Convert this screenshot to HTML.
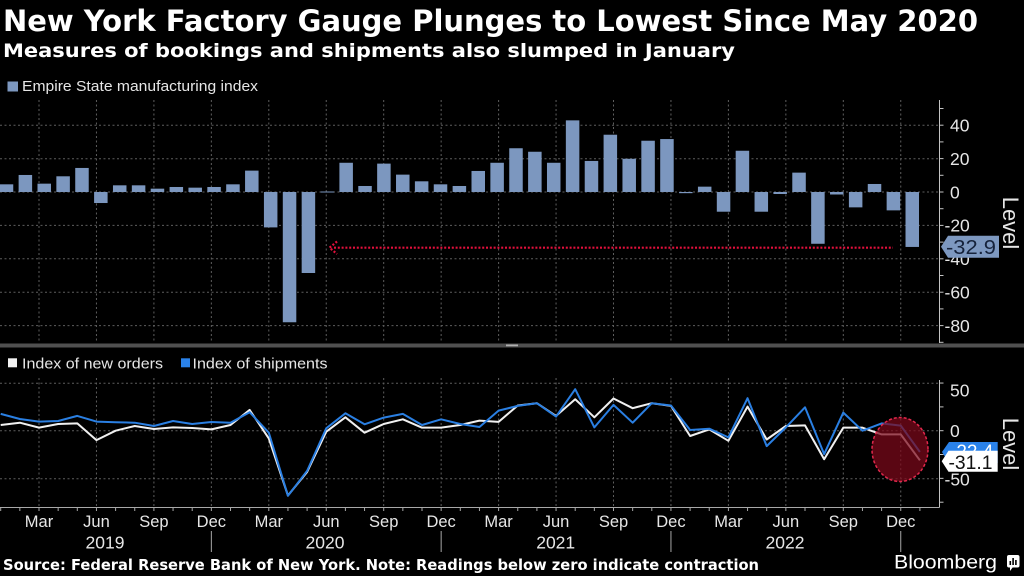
<!DOCTYPE html>
<html><head><meta charset="utf-8"><style>
html,body{margin:0;padding:0;background:#000;}
svg{display:block;}
</style></head><body>
<svg width="1024" height="576" viewBox="0 0 1024 576" xmlns="http://www.w3.org/2000/svg">
<rect width="1024" height="576" fill="#000"/>
<!-- Titles -->
<text x="3" y="31" font-family="DejaVu Sans, Liberation Sans, sans-serif" font-weight="bold" font-size="29" fill="#fff" textLength="975" lengthAdjust="spacingAndGlyphs">New York Factory Gauge Plunges to Lowest Since May 2020</text>
<text x="3" y="57" font-family="DejaVu Sans, Liberation Sans, sans-serif" font-weight="bold" font-size="19" fill="#fff" textLength="732" lengthAdjust="spacingAndGlyphs">Measures of bookings and shipments also slumped in January</text>
<!-- Top legend -->
<rect x="7.5" y="81.5" width="10.5" height="10" fill="#7c97bf"/>
<text x="22" y="91" font-family="Liberation Sans, sans-serif" font-size="15" fill="#e6e6e6" textLength="236" lengthAdjust="spacingAndGlyphs">Empire State manufacturing index</text>

<!-- Top grid -->
<g stroke="#5e5e5e" stroke-width="1" stroke-dasharray="2 2.5" fill="none">
<line x1="0" y1="125.3" x2="939" y2="125.3"/>
<line x1="0" y1="158.7" x2="939" y2="158.7"/>
<line x1="0" y1="192" x2="939" y2="192"/>
<line x1="0" y1="225.4" x2="939" y2="225.4"/>
<line x1="0" y1="258.8" x2="939" y2="258.8"/>
<line x1="0" y1="292.2" x2="939" y2="292.2"/>
<line x1="0" y1="325.6" x2="939" y2="325.6"/>
<line x1="39" y1="100" x2="39" y2="343"/>
<line x1="96.45" y1="100" x2="96.45" y2="343"/>
<line x1="153.9" y1="100" x2="153.9" y2="343"/>
<line x1="211.35" y1="100" x2="211.35" y2="343"/>
<line x1="268.8" y1="100" x2="268.8" y2="343"/>
<line x1="326.25" y1="100" x2="326.25" y2="343"/>
<line x1="383.7" y1="100" x2="383.7" y2="343"/>
<line x1="441.15" y1="100" x2="441.15" y2="343"/>
<line x1="498.6" y1="100" x2="498.6" y2="343"/>
<line x1="556.05" y1="100" x2="556.05" y2="343"/>
<line x1="613.5" y1="100" x2="613.5" y2="343"/>
<line x1="670.95" y1="100" x2="670.95" y2="343"/>
<line x1="728.4" y1="100" x2="728.4" y2="343"/>
<line x1="785.85" y1="100" x2="785.85" y2="343"/>
<line x1="843.3" y1="100" x2="843.3" y2="343"/>
<line x1="900.75" y1="100" x2="900.75" y2="343"/>
</g>

<!-- Bars -->
<g fill="#7c97bf">
<rect x="-0.25" y="184.32" width="13.5" height="7.68"/>
<rect x="18.62" y="174.97" width="13.5" height="17.03"/>
<rect x="37.49" y="183.65" width="13.5" height="8.35"/>
<rect x="56.36" y="176.3" width="13.5" height="15.7"/>
<rect x="75.23" y="167.95" width="13.5" height="24.05"/>
<rect x="94.1" y="192" width="13.5" height="11.02"/>
<rect x="112.97" y="185.32" width="13.5" height="6.68"/>
<rect x="131.84" y="185.32" width="13.5" height="6.68"/>
<rect x="150.71" y="188.66" width="13.5" height="3.34"/>
<rect x="169.58" y="186.99" width="13.5" height="5.01"/>
<rect x="188.45" y="187.66" width="13.5" height="4.34"/>
<rect x="207.32" y="186.99" width="13.5" height="5.01"/>
<rect x="226.19" y="184.32" width="13.5" height="7.68"/>
<rect x="245.06" y="170.62" width="13.5" height="21.38"/>
<rect x="263.93" y="192" width="13.5" height="35.4"/>
<rect x="282.8" y="192" width="13.5" height="130.26"/>
<rect x="301.67" y="192" width="13.5" height="81"/>
<rect x="320.54" y="191.5" width="13.5" height="1"/>
<rect x="339.41" y="162.77" width="13.5" height="29.23"/>
<rect x="358.28" y="185.99" width="13.5" height="6.01"/>
<rect x="377.15" y="163.61" width="13.5" height="28.39"/>
<rect x="396.02" y="174.63" width="13.5" height="17.37"/>
<rect x="414.89" y="181.31" width="13.5" height="10.69"/>
<rect x="433.76" y="184.32" width="13.5" height="7.68"/>
<rect x="452.63" y="185.99" width="13.5" height="6.01"/>
<rect x="471.5" y="170.96" width="13.5" height="21.04"/>
<rect x="490.37" y="162.77" width="13.5" height="29.23"/>
<rect x="509.24" y="148.25" width="13.5" height="43.75"/>
<rect x="528.11" y="151.75" width="13.5" height="40.25"/>
<rect x="546.98" y="162.77" width="13.5" height="29.23"/>
<rect x="565.85" y="120.36" width="13.5" height="71.64"/>
<rect x="584.72" y="160.94" width="13.5" height="31.06"/>
<rect x="603.59" y="134.72" width="13.5" height="57.28"/>
<rect x="622.46" y="158.77" width="13.5" height="33.23"/>
<rect x="641.33" y="140.73" width="13.5" height="51.27"/>
<rect x="660.2" y="139.06" width="13.5" height="52.94"/>
<rect x="679.07" y="192" width="13.5" height="1.17"/>
<rect x="697.94" y="186.66" width="13.5" height="5.34"/>
<rect x="716.81" y="192" width="13.5" height="19.71"/>
<rect x="735.68" y="150.75" width="13.5" height="41.25"/>
<rect x="754.55" y="192" width="13.5" height="19.71"/>
<rect x="773.42" y="192" width="13.5" height="2"/>
<rect x="792.29" y="172.63" width="13.5" height="19.37"/>
<rect x="811.16" y="192" width="13.5" height="51.77"/>
<rect x="830.03" y="192" width="13.5" height="2.5"/>
<rect x="848.9" y="192" width="13.5" height="15.36"/>
<rect x="867.77" y="183.98" width="13.5" height="8.02"/>
<rect x="886.64" y="192" width="13.5" height="18.37"/>
<rect x="905.51" y="192" width="13.5" height="54.94"/>
</g>

<!-- Red dotted arrow -->
<g stroke="#e3103c" stroke-width="2.2" stroke-dasharray="2 1.8" fill="none">
<line x1="334" y1="247.7" x2="893" y2="247.7"/>
<polyline points="337,241.5 329.5,247.7 337,254"/>
</g>

<!-- Top y axis -->
<g stroke="#c4c4c4" stroke-width="1" fill="none">
<line x1="939.5" y1="100" x2="939.5" y2="343"/>
<line x1="939.5" y1="108.5" x2="943.5" y2="108.5"/>
<line x1="939.5" y1="125.2" x2="943.5" y2="125.2"/>
<line x1="939.5" y1="141.9" x2="943.5" y2="141.9"/>
<line x1="939.5" y1="158.6" x2="943.5" y2="158.6"/>
<line x1="939.5" y1="175.3" x2="943.5" y2="175.3"/>
<line x1="939.5" y1="192" x2="943.5" y2="192"/>
<line x1="939.5" y1="208.7" x2="943.5" y2="208.7"/>
<line x1="939.5" y1="225.4" x2="943.5" y2="225.4"/>
<line x1="939.5" y1="242.1" x2="943.5" y2="242.1"/>
<line x1="939.5" y1="258.8" x2="943.5" y2="258.8"/>
<line x1="939.5" y1="275.5" x2="943.5" y2="275.5"/>
<line x1="939.5" y1="292.2" x2="943.5" y2="292.2"/>
<line x1="939.5" y1="308.9" x2="943.5" y2="308.9"/>
<line x1="939.5" y1="325.6" x2="943.5" y2="325.6"/>
<line x1="939.5" y1="342.3" x2="943.5" y2="342.3"/>
</g>
<g font-family="Liberation Sans, sans-serif" font-size="17.5" fill="#e6e6e6">
<text x="950" y="131.5">40</text>
<text x="950" y="165">20</text>
<text x="950" y="198.3">0</text>
<text x="944.5" y="231.7">-20</text>
<text x="944.5" y="265">-40</text>
<text x="944.5" y="298.5">-60</text>
<text x="944.5" y="331.9">-80</text>
</g>
<!-- -32.9 label -->
<polygon points="941,246.7 948,235.7 999,235.7 999,257.7 948,257.7" fill="#7d98c0"/>
<text x="946" y="254" font-family="Liberation Sans, sans-serif" font-size="20" fill="#16233c" textLength="50" lengthAdjust="spacingAndGlyphs">-32.9</text>
<text transform="translate(1003,223) rotate(90)" text-anchor="middle" font-family="Liberation Sans, sans-serif" font-size="22" fill="#e6e6e6">Level</text>

<!-- Separator -->
<rect x="0" y="343.5" width="1024" height="4" fill="#505050"/>
<rect x="506" y="344.5" width="12" height="1.8" fill="#b0b0b0"/>

<!-- Lower legend -->
<rect x="8" y="358.3" width="9" height="9" fill="#f2f2f2"/>
<text x="22" y="368.3" font-family="Liberation Sans, sans-serif" font-size="15" fill="#e6e6e6" textLength="141" lengthAdjust="spacingAndGlyphs">Index of new orders</text>
<rect x="181" y="358.3" width="9" height="9" fill="#2a82ea"/>
<text x="192.5" y="368.3" font-family="Liberation Sans, sans-serif" font-size="15" fill="#e6e6e6" textLength="135" lengthAdjust="spacingAndGlyphs">Index of shipments</text>

<!-- Lower grid -->
<g stroke="#5e5e5e" stroke-width="1" stroke-dasharray="2 2.5" fill="none">
<line x1="0" y1="383.3" x2="939" y2="383.3"/>
<line x1="0" y1="430.7" x2="939" y2="430.7"/>
<line x1="0" y1="478.7" x2="939" y2="478.7"/>
<line x1="39" y1="378" x2="39" y2="507"/>
<line x1="96.45" y1="378" x2="96.45" y2="507"/>
<line x1="153.9" y1="378" x2="153.9" y2="507"/>
<line x1="211.35" y1="378" x2="211.35" y2="507"/>
<line x1="268.8" y1="378" x2="268.8" y2="507"/>
<line x1="326.25" y1="378" x2="326.25" y2="507"/>
<line x1="383.7" y1="378" x2="383.7" y2="507"/>
<line x1="441.15" y1="378" x2="441.15" y2="507"/>
<line x1="498.6" y1="378" x2="498.6" y2="507"/>
<line x1="556.05" y1="378" x2="556.05" y2="507"/>
<line x1="613.5" y1="378" x2="613.5" y2="507"/>
<line x1="670.95" y1="378" x2="670.95" y2="507"/>
<line x1="728.4" y1="378" x2="728.4" y2="507"/>
<line x1="785.85" y1="378" x2="785.85" y2="507"/>
<line x1="843.3" y1="378" x2="843.3" y2="507"/>
<line x1="900.75" y1="378" x2="900.75" y2="507"/>
</g>

<!-- Lines -->
<polyline fill="none" stroke="#f0f0f0" stroke-width="2" stroke-linejoin="round" points="0.7,425.0 19.85,422.7 39,427.65 58.15,424 77.3,423.4 96.45,440.1 115.6,430.7 134.75,426 153.9,429 173.05,427.4 192.2,428 211.35,429.4 230.5,425 249.65,409.9 268.8,438.4 287.95,495.5 307.1,472 326.25,431.7 345.4,417.3 364.55,432.7 383.7,424 402.85,419.3 422,427.65 441.15,427.65 460.3,425 479.45,420.6 498.6,421.9 517.75,405.5 536.9,403.2 556.05,415.9 575.2,399.25 594.35,417.3 613.5,398.5 632.65,408.2 651.8,403.2 670.95,405.9 690.1,436 709.25,429.4 728.4,440.8 747.55,406.6 766.7,439.5 785.85,426 805,425.4 824.15,459.2 843.3,427.65 862.45,427.65 881.6,434.4 900.75,434.4 919.9,460.3"/>
<polyline fill="none" stroke="#2a7fe2" stroke-width="2" stroke-linejoin="round" points="0.7,413.9 19.85,419 39,421.6 58.15,421 77.3,415.9 96.45,421.6 115.6,422.3 134.75,422.7 153.9,426 173.05,421 192.2,424 211.35,422 230.5,422.7 249.65,412.2 268.8,432.7 287.95,495.8 307.1,470.9 326.25,428.3 345.4,413.3 364.55,424.3 383.7,417.6 402.85,413.9 422,425 441.15,419.3 460.3,424 479.45,427 498.6,410.6 517.75,405.9 536.9,403.2 556.05,416.6 575.2,389.2 594.35,427.4 613.5,404.9 632.65,422.7 651.8,403.2 670.95,405.5 690.1,430 709.25,428.7 728.4,437.4 747.55,398.2 766.7,446.1 785.85,427.4 805,407.3 824.15,454.1 843.3,412.6 862.45,430.7 881.6,423.4 900.75,425.6 919.9,452"/>

<!-- Red circle -->
<ellipse cx="900" cy="449.5" rx="28" ry="32" fill="rgb(125,8,26)" fill-opacity="0.72" stroke="#e2284c" stroke-width="1.5" stroke-dasharray="3 2"/>

<!-- Lower y axis -->
<g stroke="#c4c4c4" stroke-width="1" fill="none">
<line x1="939.5" y1="380" x2="939.5" y2="507.5"/>
<line x1="939.5" y1="383.05" x2="943.5" y2="383.05"/>
<line x1="939.5" y1="406.9" x2="943.5" y2="406.9"/>
<line x1="939.5" y1="430.7" x2="943.5" y2="430.7"/>
<line x1="939.5" y1="454.5" x2="943.5" y2="454.5"/>
<line x1="939.5" y1="478.35" x2="943.5" y2="478.35"/>
<line x1="939.5" y1="502.2" x2="943.5" y2="502.2"/>
</g>
<g font-family="Liberation Sans, sans-serif" font-size="17.5" fill="#e6e6e6">
<text x="950" y="396.3">50</text>
<text x="950" y="437">0</text>
<text x="944.5" y="485.3">-50</text>
</g>
<polygon points="942,452 949,442 997.7,442 997.7,463 949,463" fill="#2a82ea"/>
<text x="950" y="458" font-family="Liberation Sans, sans-serif" font-size="19" fill="#fff">-22.4</text>
<polygon points="941.7,461.2 948.5,450.7 997.7,450.7 997.7,471.7 948.5,471.7" fill="#fff"/>
<text x="948.5" y="468.8" font-family="Liberation Sans, sans-serif" font-size="19.5" fill="#111" textLength="44" lengthAdjust="spacingAndGlyphs">-31.1</text>
<text transform="translate(1003,444) rotate(90)" text-anchor="middle" font-family="Liberation Sans, sans-serif" font-size="22" fill="#e6e6e6">Level</text>

<!-- X axis -->
<line x1="0" y1="507.5" x2="939.5" y2="507.5" stroke="#a8a8a8" stroke-width="1"/>
<g stroke="#a8a8a8" stroke-width="1">
<line x1="0.7" y1="507.5" x2="0.7" y2="511"/><line x1="19.85" y1="507.5" x2="19.85" y2="511"/><line x1="39" y1="507.5" x2="39" y2="511"/><line x1="58.15" y1="507.5" x2="58.15" y2="511"/><line x1="77.3" y1="507.5" x2="77.3" y2="511"/><line x1="96.45" y1="507.5" x2="96.45" y2="511"/><line x1="115.6" y1="507.5" x2="115.6" y2="511"/><line x1="134.75" y1="507.5" x2="134.75" y2="511"/><line x1="153.9" y1="507.5" x2="153.9" y2="511"/><line x1="173.05" y1="507.5" x2="173.05" y2="511"/><line x1="192.2" y1="507.5" x2="192.2" y2="511"/><line x1="211.35" y1="507.5" x2="211.35" y2="511"/><line x1="230.5" y1="507.5" x2="230.5" y2="511"/><line x1="249.65" y1="507.5" x2="249.65" y2="511"/><line x1="268.8" y1="507.5" x2="268.8" y2="511"/><line x1="287.95" y1="507.5" x2="287.95" y2="511"/><line x1="307.1" y1="507.5" x2="307.1" y2="511"/><line x1="326.25" y1="507.5" x2="326.25" y2="511"/><line x1="345.4" y1="507.5" x2="345.4" y2="511"/><line x1="364.55" y1="507.5" x2="364.55" y2="511"/><line x1="383.7" y1="507.5" x2="383.7" y2="511"/><line x1="402.85" y1="507.5" x2="402.85" y2="511"/><line x1="422" y1="507.5" x2="422" y2="511"/><line x1="441.15" y1="507.5" x2="441.15" y2="511"/><line x1="460.3" y1="507.5" x2="460.3" y2="511"/><line x1="479.45" y1="507.5" x2="479.45" y2="511"/><line x1="498.6" y1="507.5" x2="498.6" y2="511"/><line x1="517.75" y1="507.5" x2="517.75" y2="511"/><line x1="536.9" y1="507.5" x2="536.9" y2="511"/><line x1="556.05" y1="507.5" x2="556.05" y2="511"/><line x1="575.2" y1="507.5" x2="575.2" y2="511"/><line x1="594.35" y1="507.5" x2="594.35" y2="511"/><line x1="613.5" y1="507.5" x2="613.5" y2="511"/><line x1="632.65" y1="507.5" x2="632.65" y2="511"/><line x1="651.8" y1="507.5" x2="651.8" y2="511"/><line x1="670.95" y1="507.5" x2="670.95" y2="511"/><line x1="690.1" y1="507.5" x2="690.1" y2="511"/><line x1="709.25" y1="507.5" x2="709.25" y2="511"/><line x1="728.4" y1="507.5" x2="728.4" y2="511"/><line x1="747.55" y1="507.5" x2="747.55" y2="511"/><line x1="766.7" y1="507.5" x2="766.7" y2="511"/><line x1="785.85" y1="507.5" x2="785.85" y2="511"/><line x1="805" y1="507.5" x2="805" y2="511"/><line x1="824.15" y1="507.5" x2="824.15" y2="511"/><line x1="843.3" y1="507.5" x2="843.3" y2="511"/><line x1="862.45" y1="507.5" x2="862.45" y2="511"/><line x1="881.6" y1="507.5" x2="881.6" y2="511"/><line x1="900.75" y1="507.5" x2="900.75" y2="511"/><line x1="919.9" y1="507.5" x2="919.9" y2="511"/>
<line x1="211.35" y1="531" x2="211.35" y2="552"/>
<line x1="441.15" y1="531" x2="441.15" y2="552"/>
<line x1="670.95" y1="531" x2="670.95" y2="552"/>
<line x1="900.75" y1="531" x2="900.75" y2="552"/>
</g>
<g font-family="Liberation Sans, sans-serif" font-size="16.5" fill="#e6e6e6" text-anchor="middle">
<text x="39" y="527">Mar</text><text x="96.45" y="527">Jun</text><text x="153.9" y="527">Sep</text><text x="211.35" y="527">Dec</text>
<text x="268.8" y="527">Mar</text><text x="326.25" y="527">Jun</text><text x="383.7" y="527">Sep</text><text x="441.15" y="527">Dec</text>
<text x="498.6" y="527">Mar</text><text x="556.05" y="527">Jun</text><text x="613.5" y="527">Sep</text><text x="670.95" y="527">Dec</text>
<text x="728.4" y="527">Mar</text><text x="785.85" y="527">Jun</text><text x="843.3" y="527">Sep</text><text x="900.75" y="527">Dec</text>
</g>
<g font-family="Liberation Sans, sans-serif" font-size="17.5" fill="#e6e6e6" text-anchor="middle">
<text x="105" y="548.3">2019</text>
<text x="325" y="548.3">2020</text>
<text x="555.7" y="548.3">2021</text>
<text x="785" y="548.3">2022</text>
</g>

<!-- Footer -->
<text x="3" y="570" font-family="DejaVu Sans, Liberation Sans, sans-serif" font-weight="bold" font-size="15.5" fill="#fff" textLength="756" lengthAdjust="spacingAndGlyphs">Source: Federal Reserve Bank of New York. Note: Readings below zero indicate contraction</text>
<text x="894" y="568.5" font-family="Liberation Sans, sans-serif" font-size="19" fill="#fff" textLength="103" lengthAdjust="spacingAndGlyphs">Bloomberg</text>
<g>
<rect x="1007" y="555" width="12.5" height="12.5" rx="2" fill="#fff"/>
<polygon points="1010,567 1013,567 1010,571" fill="#fff"/>
<rect x="1009.5" y="561" width="1.6" height="4" fill="#000"/>
<rect x="1012.3" y="558" width="1.6" height="7" fill="#000"/>
<rect x="1015.1" y="560" width="1.6" height="5" fill="#000"/>
</g>
</svg>
</body></html>
